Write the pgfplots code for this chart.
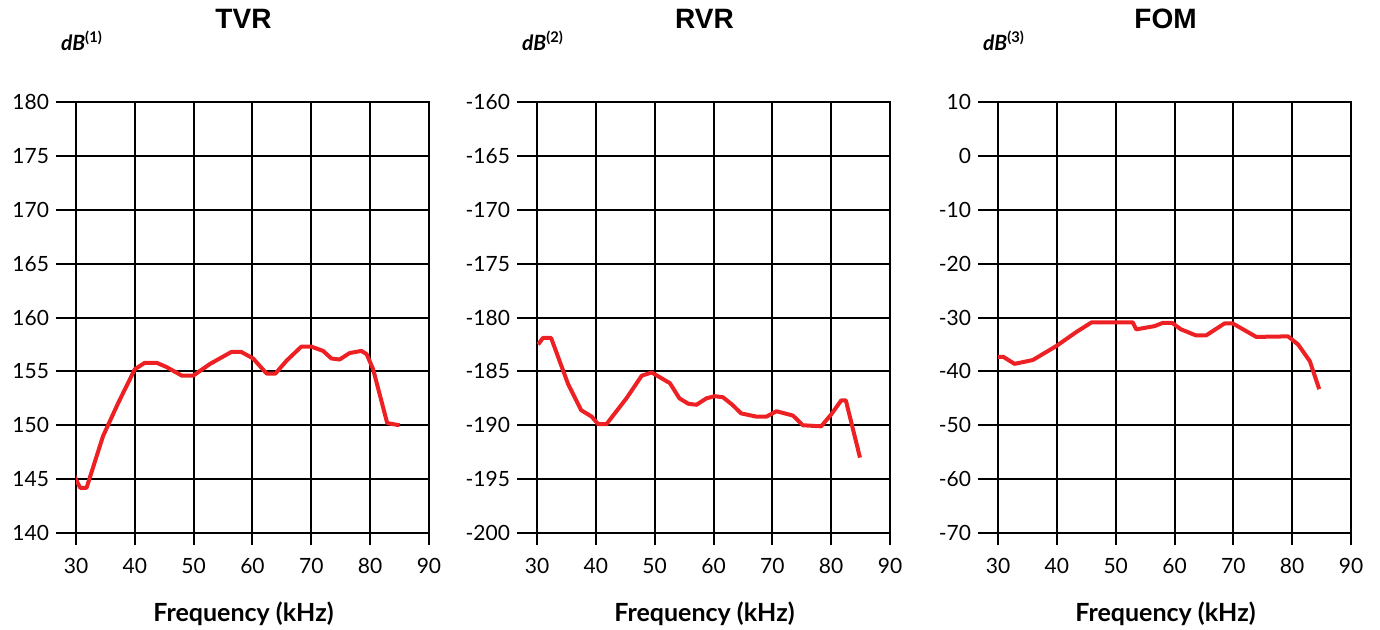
\documentclass[border=0pt]{standalone}
\usepackage{fontspec}
\setmainfont{Lato}
\newfontfamily\titlefont{Liberation Sans}
\usepackage{pgfplots}
\pgfplotsset{compat=1.18}
\definecolor{curvered}{RGB}{237,32,36}

\pgfplotsset{
  panel/.style={
    scale only axis,
    width=176.5pt, height=215.5pt,
    anchor=south west,
    xmin=30, xmax=90,
    xtick=\empty,
    extra x ticks={30,40,...,90},
    extra x tick style={major tick length=6pt, grid=major, xtick pos=bottom,
      xticklabel style={yshift=-3pt}},
    tick align=outside,
    xtick pos=bottom, ytick pos=left,
    major tick length=10pt,
    ymajorgrids,
    grid style={black, line width=1pt},
    axis line style={black, line width=1pt},
    tick style={black, line width=1pt},
    tick label style={font=\fontsize{10.5}{12}\selectfont},
    /pgf/number format/assume math mode=true,
    title style={at={(axis description cs:0.5,1)}, anchor=center,
      yshift=35.5pt, xshift=-4.5pt, font=\titlefont\bfseries\fontsize{14}{16}\selectfont},
    xlabel={Frequency (kHz)},
    xlabel style={at={(axis description cs:0.5,0)}, anchor=center,
      yshift=-40.5pt, xshift=-4.5pt, font=\bfseries\fontsize{12.5}{14}\selectfont},
    ylabel style={at={(axis description cs:0,1)}, anchor=center, rotate=-90,
      yshift=30.5pt, xshift=3pt, font=\fontsize{10.5}{12}\selectfont},
  },
  curve/.style={curvered, line width=2pt, line join=round, no marks},
}

\begin{document}
\begin{tikzpicture}
\path[use as bounding box] (0,0) rectangle (690pt,314.5pt);

\begin{axis}[panel, at={(38pt,48pt)},
  title={TVR}, ylabel={\textbf{\textit{dB}}\textsuperscript{\bfseries(1)}},
  ymin=140, ymax=180, ytick={140,145,...,180}]
\addplot[curve] coordinates {
(29.7,145.3) (30.7,144.2) (31.8,144.2) (34.6,149.0) (37.2,152.1) (40.0,155.2)
(41.7,155.8) (43.7,155.8) (45.4,155.4) (48.0,154.6) (49.9,154.6) (52.8,155.7)
(56.4,156.8) (58.1,156.8) (60.1,156.2) (62.4,154.8) (63.9,154.8) (65.8,156.0)
(68.3,157.3) (70.0,157.3) (72.0,156.9) (73.4,156.2) (74.8,156.1) (76.5,156.7)
(78.5,156.9) (79.4,156.6) (80.5,155.2) (82.9,150.2) (85.0,150.0)
};
\end{axis}

\begin{axis}[panel, at={(268.5pt,48pt)},
  title={RVR}, ylabel={\textbf{\textit{dB}}\textsuperscript{\bfseries(2)}},
  ymin=-200, ymax=-160, ytick={-200,-195,...,-160}]
\addplot[curve] coordinates {
(30.2,-182.5) (31.0,-181.9) (32.4,-181.9) (35.3,-186.2) (37.5,-188.6) (39.3,-189.2)
(40.4,-189.9) (41.8,-189.9) (45.2,-187.5) (47.8,-185.4) (49.5,-185.1) (52.6,-186.1)
(54.2,-187.5) (55.7,-188.0) (57.1,-188.1) (58.8,-187.5) (60.2,-187.3) (61.6,-187.4)
(63.2,-188.1) (64.7,-188.9) (67.3,-189.2) (69.0,-189.2) (70.7,-188.7) (73.5,-189.1)
(75.2,-190.0) (78.3,-190.1) (80.0,-189.0) (81.7,-187.7) (82.5,-187.7) (84.9,-193.0)
};
\end{axis}

\begin{axis}[panel, at={(499pt,48pt)},
  title={FOM}, ylabel={\textbf{\textit{dB}}\textsuperscript{\bfseries(3)}},
  ymin=-70, ymax=10, ytick={-70,-60,...,10}]
\addplot[curve] coordinates {
(29.1,-37.3) (30.9,-37.3) (32.8,-38.6) (35.9,-37.9) (39.9,-35.3) (43.3,-32.7)
(45.9,-30.9) (52.9,-30.9) (53.5,-32.2) (56.6,-31.6) (58.0,-31.0) (59.6,-31.0)
(61.1,-32.2) (63.6,-33.3) (65.4,-33.3) (68.5,-31.1) (69.9,-31.1) (73.9,-33.6)
(79.3,-33.5) (81.0,-35.0) (83.0,-38.1) (84.6,-43.3)
};
\end{axis}
\end{tikzpicture}
\end{document}
